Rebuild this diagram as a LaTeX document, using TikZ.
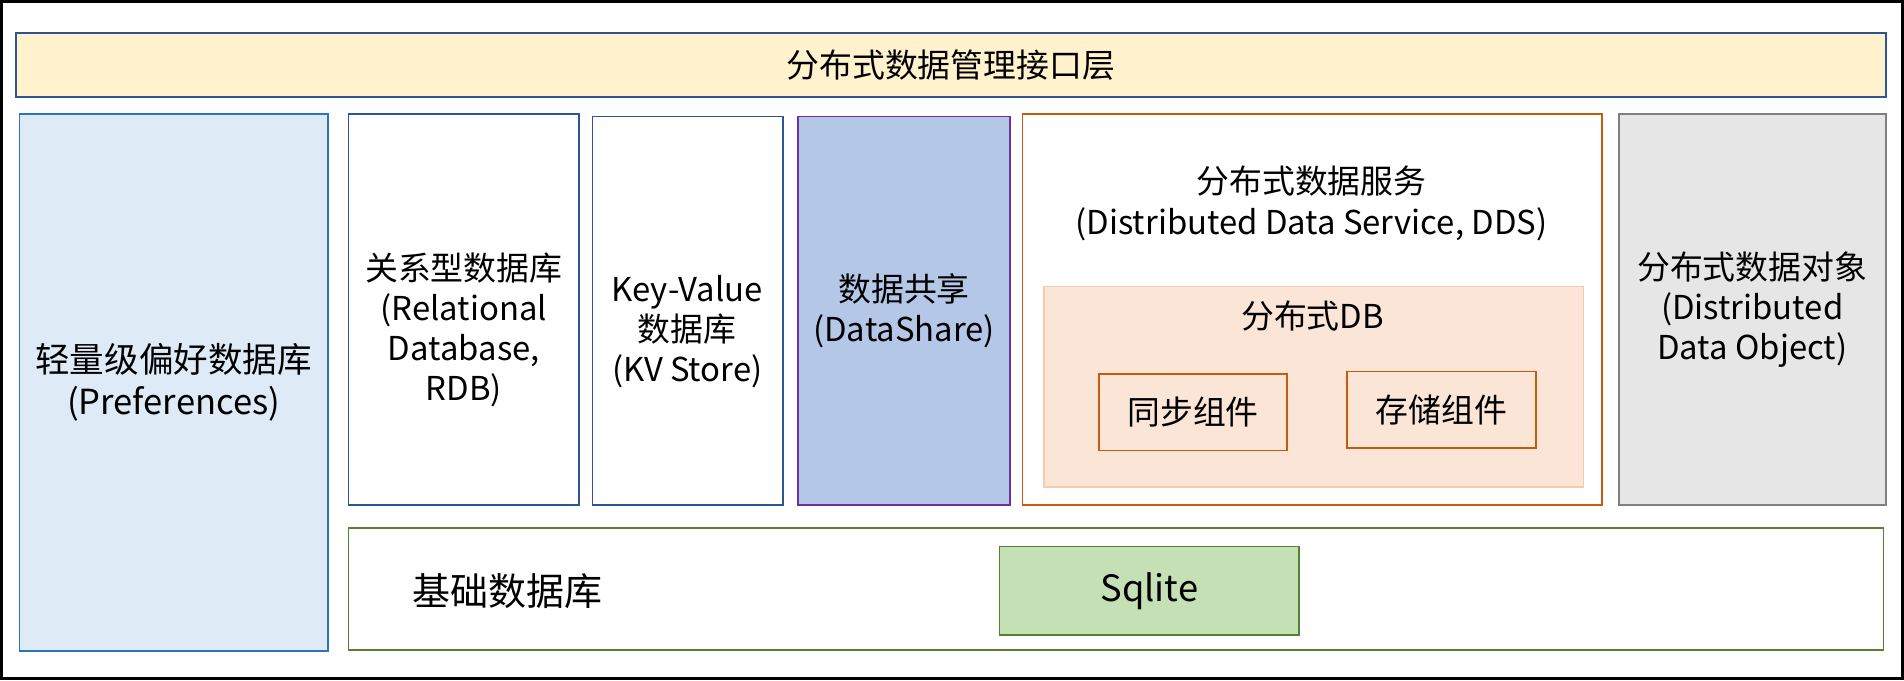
\documentclass[tikz,border=0pt]{standalone}
\usepackage{fontspec}
\setmainfont{Noto Sans CJK SC}

\definecolor{lineblue}{HTML}{2F5597}
\definecolor{prefline}{HTML}{2E75B6}
\definecolor{preffill}{HTML}{DEEBF7}
\definecolor{topfill}{HTML}{FFF2CC}
\definecolor{sharefill}{HTML}{B4C7E7}
\definecolor{shareline}{HTML}{7030A0}
\definecolor{ddsline}{HTML}{C55A11}
\definecolor{dbfill}{HTML}{FBE5D6}
\definecolor{dbline}{HTML}{F8CBAD}
\definecolor{ddofill}{HTML}{E7E6E6}
\definecolor{ddoline}{HTML}{7F7F7F}
\definecolor{baseline}{HTML}{548235}
\definecolor{sqlfill}{HTML}{C5E0B4}

\begin{document}
\begin{tikzpicture}[
    x=0.2mm, y=-0.2mm,
    font=\fontsize{15.4}{18.8}\selectfont,
    blk/.style={draw, line width=0.8pt, inner sep=0pt, align=center},
    txt/.style={align=center, inner sep=0pt}
]
\useasboundingbox (0,0) rectangle (1568,560);

% Frame
\node[draw=black, line width=1.3pt, minimum width=313.2mm, minimum height=111.6mm] (frame) at (784,280) {};

% Interface layer
\node[blk, draw=lineblue, fill=topfill, minimum width=308mm, minimum height=10.6mm] (top) at (783,53.5) {分布式数据管理接口层};

% Preferences
\node[blk, draw=prefline, fill=preffill, minimum width=50.8mm, minimum height=88.4mm,
      font=\fontsize{16.2}{19.4}\selectfont] (pref) at (143,315) {轻量级偏好数据库\\(Preferences)};

% RDB and KV store
\node[blk, draw=lineblue, minimum width=38mm, minimum height=64.4mm] (rdb) at (382,255) {};
\node[txt] (rdbtxt) at (382,271.5) {关系型数据库\\(Relational\\Database,\\RDB)};
\node[blk, draw=lineblue, minimum width=31.4mm, minimum height=64mm] (kv) at (566.5,256) {};
\node[txt] (kvtxt) at (566,273) {Key-Value\\数据库\\(KV Store)};

% DataShare
\node[blk, draw=shareline, fill=sharefill, minimum width=35mm, minimum height=64mm] (share) at (744.5,256) {数据共享\\(DataShare)};

% DDS
\node[blk, draw=ddsline, minimum width=95.4mm, minimum height=64.4mm] (dds) at (1080.5,255) {};
\node[txt] (ddstxt) at (1080,167.5) {分布式数据服务\\(Distributed Data Service, DDS)};
\node[blk, draw=dbline, fill=dbfill, minimum width=88.8mm, minimum height=33mm] (db) at (1082,318.5) {};
\node[txt] (dbtxt) at (1081,260) {分布式DB};
\node[blk, draw=ddsline, minimum width=31mm, minimum height=12.6mm] (sync) at (982.5,339.5) {同步组件};
\node[blk, draw=ddsline, minimum width=31.2mm, minimum height=12.6mm] (store) at (1187,337.5) {存储组件};

% Distributed data object
\node[blk, draw=ddoline, fill=ddofill, minimum width=44mm, minimum height=64.4mm] (ddo) at (1443,255) {分布式数据对象\\(Distributed\\Data Object)};

% Base database
\node[blk, draw=baseline, minimum width=252.8mm, minimum height=20mm] (base) at (919,485) {};
\node[txt, font=\fontsize{17.8}{21}\selectfont] (basetxt) at (418,487) {基础数据库};
\node[blk, draw=baseline, fill=sqlfill, minimum width=49.4mm, minimum height=14.6mm,
      font=\fontsize{17}{20}\selectfont] (sqlite) at (946.5,486.5) {Sqlite};

\end{tikzpicture}
\end{document}
